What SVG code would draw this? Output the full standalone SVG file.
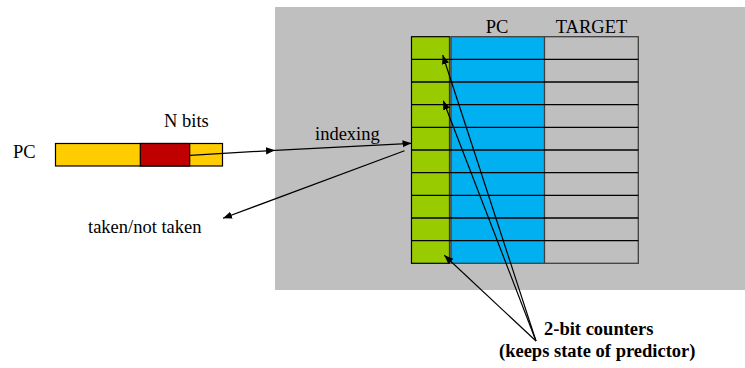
<svg xmlns="http://www.w3.org/2000/svg" width="745" height="368" viewBox="0 0 745 368">
  <defs>
    <style>
      text { font-family: 'Liberation Serif', 'Times New Roman', Times, serif; font-size: 18.5px; fill: #000; }
      .b { font-weight: bold; }
      .row { stroke: #000; stroke-width: 1.3; }
      .wire { stroke: #000; stroke-width: 1.2; fill: none; }
    </style>
    <marker id="ah" viewBox="0 0 10 10" refX="10" refY="5" markerWidth="9" markerHeight="9" markerUnits="userSpaceOnUse" orient="auto">
      <path d="M0,1 L10,5 L0,9 Z" fill="#000"/>
    </marker>
  </defs>

  <rect width="745" height="368" fill="#fff"/>

  <!-- predictor area background -->
  <g id="btb-area">
    <rect x="275" y="7" width="470" height="283" fill="#bfbfbf"/>
  </g>

  <!-- PC register with N-bit index field -->
  <g id="pc-register" font-family="Liberation Serif, serif">
    <text x="13" y="158">PC</text>
    <rect x="55.5" y="143.5" width="167" height="22.5" fill="#ffcc00" stroke="#000" stroke-width="1.2"/>
    <rect x="140.3" y="143.5" width="49.4" height="22.5" fill="#c00000" stroke="#000" stroke-width="1.2"/>
    <text x="164" y="127">N bits</text>
  </g>

  <!-- table: counters, PC tags, targets -->
  <g id="table">
    <rect x="411.5" y="36.7" width="38" height="226.6" fill="#99cc00" stroke="#000" stroke-width="1.2"/>
    <rect x="451" y="36.7" width="93.5" height="226.6" fill="#00b0f0"/>
    <rect x="451" y="36.7" width="187.3" height="226.6" fill="none" stroke="#404040" stroke-width="1.3"/>
    <line x1="450.2" y1="36.7" x2="450.2" y2="263.3" stroke="#595959" stroke-width="1.6"/>
    <line x1="544.5" y1="36.7" x2="544.5" y2="263.3" stroke="#404040" stroke-width="1.3"/>
    <g class="row">
      <line x1="411.5" y1="59.4" x2="638.3" y2="59.4"/>
      <line x1="411.5" y1="82" x2="638.3" y2="82"/>
      <line x1="411.5" y1="104.7" x2="638.3" y2="104.7"/>
      <line x1="411.5" y1="127.4" x2="638.3" y2="127.4"/>
      <line x1="411.5" y1="150" x2="638.3" y2="150"/>
      <line x1="411.5" y1="172.7" x2="638.3" y2="172.7"/>
      <line x1="411.5" y1="195.3" x2="638.3" y2="195.3"/>
      <line x1="411.5" y1="218" x2="638.3" y2="218"/>
      <line x1="411.5" y1="240.6" x2="638.3" y2="240.6"/>
    </g>
    <text x="497" y="33" text-anchor="middle">PC</text>
    <text x="591.5" y="33" text-anchor="middle">TARGET</text>
  </g>

  <!-- labels -->
  <g id="label-indexing">
    <text x="315" y="140">indexing</text>
  </g>
  <g id="label-taken">
    <text x="88" y="233">taken/not taken</text>
  </g>
  <g id="label-counters">
    <text class="b" x="544" y="335">2-bit counters</text>
    <text class="b" x="499" y="357">(keeps state of predictor)</text>
  </g>

  <!-- connectors -->
  <g id="connectors">
    <line class="wire" x1="190" y1="155.3" x2="275" y2="150.3" marker-end="url(#ah)"/>
    <line class="wire" x1="275" y1="150.3" x2="411.5" y2="143.3" marker-end="url(#ah)"/>
    <line class="wire" x1="404.5" y1="150.7" x2="223" y2="218.3" marker-end="url(#ah)"/>
    <line class="wire" x1="536" y1="341" x2="442.7" y2="55" marker-end="url(#ah)"/>
    <line class="wire" x1="536" y1="341" x2="443.3" y2="100.7" marker-end="url(#ah)"/>
    <line class="wire" x1="536" y1="341" x2="444.3" y2="255.3" marker-end="url(#ah)"/>
  </g>
</svg>
